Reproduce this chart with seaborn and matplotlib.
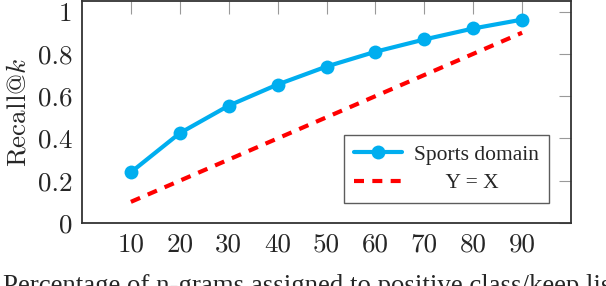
import matplotlib
matplotlib.use("Agg")
import matplotlib.pyplot as plt
import seaborn as sns
import pandas as pd

pct = [10, 20, 30, 40, 50, 60, 70, 80, 90]
recall = [0.24, 0.425, 0.555, 0.655, 0.74, 0.81, 0.868, 0.92, 0.962]
identity = [0.1, 0.2, 0.3, 0.4, 0.5, 0.6, 0.7, 0.8, 0.9]
yticks = [0, 0.2, 0.4, 0.6, 0.8, 1]
ytick_labels = ["0", "0.2", "0.4", "0.6", "0.8", "1"]

df = pd.DataFrame({"pct": pct, "recall": recall, "identity": identity})

sns.set_style("white")
plt.rcParams["font.family"] = ["cmr10", "DejaVu Serif"]
plt.rcParams["mathtext.fontset"] = "cm"
plt.rcParams["axes.formatter.use_mathtext"] = True

fig = plt.figure(figsize=(6.06, 2.86), dpi=100)
ax = fig.add_axes([82 / 606, 63 / 286, 489 / 606, 222 / 286])

sns.lineplot(data=df, x="pct", y="recall", ax=ax, color="#00AEEF", lw=3,
             marker="o", markersize=10, markeredgewidth=0, label="Sports domain")
sns.lineplot(data=df, x="pct", y="identity", ax=ax, color="#FF0000", lw=3,
             label="      Y = X")
ax.lines[1].set_dashes((2.4, 2.0))

ax.set_xlim(0, 100)
ax.set_ylim(0, 1.05)
ax.set_xticks(pct)
ax.set_xticklabels([str(p) for p in pct])
ax.set_yticks(yticks)
ax.set_yticklabels(ytick_labels)
ax.tick_params(direction="in", length=9, width=0.8, color="#999999",
               labelsize=19.5, top=True, right=True, pad=7)
for s in ax.spines.values():
    s.set_color("#333333")
    s.set_linewidth(1.3)

ax.set_xlabel("Percentage of n-grams assigned to positive class/keep list",
              fontsize=19.4, family="Liberation Serif", ha="left", va="top")
ax.xaxis.set_label_coords(-79 / 489, -51 / 222)
ax.set_ylabel(r"Recall@$k$", fontsize=19.5, labelpad=5)

leg = ax.legend(loc="lower right", bbox_to_anchor=(0.955, 0.09), frameon=True,
                fancybox=False, edgecolor="#333333", handlelength=2.2,
                prop={"family": "Liberation Serif", "size": 15.5},
                borderpad=0.45, labelspacing=0.4, handletextpad=0.6,
                borderaxespad=0)
leg.get_frame().set_linewidth(1.0)

fig.savefig("out.png", dpi=100)
